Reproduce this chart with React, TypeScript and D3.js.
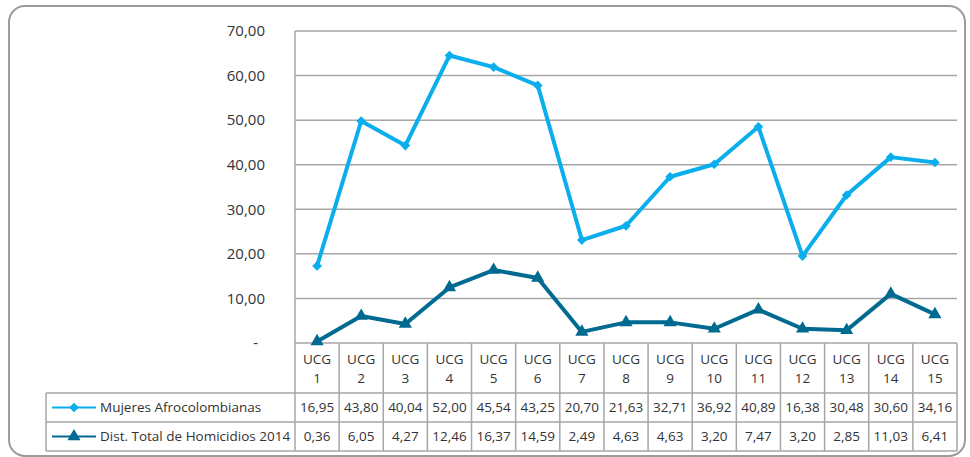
import { useRef, useEffect } from "react";
import * as d3 from "d3";

// categorias (UCG 1..15)
const categories = ["1", "2", "3", "4", "5", "6", "7", "8", "9", "10", "11", "12", "13", "14", "15"];
// valores de la tabla
const mujeresTable = [16.95, 43.8, 40.04, 52.0, 45.54, 43.25, 20.7, 21.63, 32.71, 36.92, 40.89, 16.38, 30.48, 30.6, 34.16];
const homicidios = [0.36, 6.05, 4.27, 12.46, 16.37, 14.59, 2.49, 4.63, 4.63, 3.2, 7.47, 3.2, 2.85, 11.03, 6.41];
// la linea de Mujeres no coincide con la tabla en el original: valores
const mujeresPlot = [17.3, 49.8, 44.3, 64.5, 61.9, 57.8, 23.1, 26.3, 37.3, 40.1, 48.5, 19.5, 33.2, 41.7, 40.5];
const yTicks = [0, 10, 20, 30, 40, 50, 60, 70];
const seriesNames = ["Mujeres Afrocolombianas", "Dist. Total de Homicidios 2014"];

const W = 970;
const H = 457;
const LIGHT = "#0BAEEC";
const DARK = "#006A91";
const GRID = "#A6A6A6";
const TEXT = "#333333";
const FONT = "'Open Sans', 'DejaVu Sans', sans-serif";

const fmt = (v: number) => d3.format(".2f")(v).replace(".", ",");

const App = () => {
  const ref = useRef<SVGSVGElement | null>(null);

  useEffect(() => {
    document.body.style.margin = "0";
    const svg = d3.select(ref.current);
    svg.selectAll("*").remove();

    const plot = { left: 295, right: 957, top: 31, bottom: 343 };
    const tableLeft = 46;
    const rowY = [343, 393, 422, 451];

    const x = d3.scaleBand().domain(categories).range([plot.left, plot.right]);
    const y = d3.scaleLinear().domain([0, 70]).range([plot.bottom, plot.top]);
    const cx = (d: string) => (x(d) as number) + x.bandwidth() / 2;

    // marco redondeado
    svg
      .append("rect")
      .attr("x", 9)
      .attr("y", 6)
      .attr("width", 956)
      .attr("height", 450)
      .attr("rx", 16)
      .attr("fill", "#fff")
      .attr("stroke", "#9C9C9C")
      .attr("stroke-width", 2);

    // lineas de cuadricula
    svg
      .append("g")
      .selectAll("line")
      .data(yTicks.filter((t) => t > 0))
      .join("line")
      .attr("x1", plot.left)
      .attr("x2", plot.right)
      .attr("y1", (d) => y(d))
      .attr("y2", (d) => y(d))
      .attr("stroke", GRID)
      .attr("stroke-width", 1.5);

    // etiquetas eje y
    svg
      .append("g")
      .selectAll("text")
      .data(yTicks)
      .join("text")
      .attr("x", (d) => (d === 0 ? 258 : 265))
      .attr("y", (d) => y(d))
      .attr("dy", "0.35em")
      .attr("text-anchor", "end")
      .attr("font-family", FONT)
      .attr("font-size", 15)
      .attr("fill", TEXT)
      .text((d) => (d === 0 ? "-" : fmt(d)));

    // tabla
    const table = svg.append("g").attr("stroke", GRID).attr("stroke-width", 1.5);
    table
      .append("line")
      .attr("x1", plot.left)
      .attr("x2", plot.right)
      .attr("y1", rowY[0])
      .attr("y2", rowY[0]);
    rowY.slice(1).forEach((ry) => {
      table
        .append("line")
        .attr("x1", tableLeft)
        .attr("x2", plot.right)
        .attr("y1", ry)
        .attr("y2", ry);
    });
    table
      .append("line")
      .attr("x1", plot.left)
      .attr("x2", plot.left)
      .attr("y1", plot.top)
      .attr("y2", rowY[3]);
    table
      .append("line")
      .attr("x1", tableLeft)
      .attr("x2", tableLeft)
      .attr("y1", rowY[1])
      .attr("y2", rowY[3]);
    table
      .selectAll(".sep")
      .data(categories)
      .join("line")
      .attr("x1", (d) => (x(d) as number) + x.bandwidth())
      .attr("x2", (d) => (x(d) as number) + x.bandwidth())
      .attr("y1", rowY[0])
      .attr("y2", rowY[3]);

    // encabezados
    const head = svg
      .append("g")
      .attr("font-family", FONT)
      .attr("font-size", 13.5)
      .attr("fill", TEXT)
      .attr("text-anchor", "middle");
    categories.forEach((c) => {
      head.append("text").attr("x", cx(c)).attr("y", 364).text("UCG");
      head.append("text").attr("x", cx(c)).attr("y", 383).text(c);
    });

    // valores de la tabla
    [mujeresTable, homicidios].forEach((vals, si) => {
      head
        .append("g")
        .selectAll("text")
        .data(vals)
        .join("text")
        .attr("x", (_, i) => cx(categories[i]))
        .attr("y", (rowY[si + 1] + rowY[si + 2]) / 2)
        .attr("dy", "0.35em")
        .text((d) => fmt(d));
    });

    // series
    const series = [
      { vals: mujeresPlot, color: LIGHT, symbol: d3.symbolDiamond2, size: 60 },
      { vals: homicidios, color: DARK, symbol: d3.symbolTriangle, size: 75 },
    ];
    const line = d3
      .line<number>()
      .x((_, i) => cx(categories[i]))
      .y((d) => y(d));

    series.forEach((s, si) => {
      const g = svg.append("g");
      g.append("path")
        .attr("d", line(s.vals))
        .attr("fill", "none")
        .attr("stroke", s.color)
        .attr("stroke-width", 4)
        .attr("stroke-linejoin", "round");
      g.selectAll("path.m")
        .data(s.vals)
        .join("path")
        .attr("class", "m")
        .attr("transform", (d, i) => `translate(${cx(categories[i])},${y(d)})`)
        .attr("d", d3.symbol().type(s.symbol).size(s.size)())
        .attr("fill", s.color);

      // leyenda en la tabla
      const ly = (rowY[si + 1] + rowY[si + 2]) / 2;
      const lg = svg.append("g");
      lg.append("line")
        .attr("x1", 52)
        .attr("x2", 96)
        .attr("y1", ly)
        .attr("y2", ly)
        .attr("stroke", s.color)
        .attr("stroke-width", 2);
      lg.append("path")
        .attr("transform", `translate(74,${ly})`)
        .attr("d", d3.symbol().type(s.symbol).size(s.size)())
        .attr("fill", s.color);
      lg.append("text")
        .attr("x", 100)
        .attr("y", ly)
        .attr("dy", "0.35em")
        .attr("font-family", FONT)
        .attr("font-size", 13.5)
        .attr("fill", TEXT)
        .text(seriesNames[si]);
    });
  }, []);

  return <svg ref={ref} width={W} height={H} style={{ display: "block" }} />;
};

export default App;
